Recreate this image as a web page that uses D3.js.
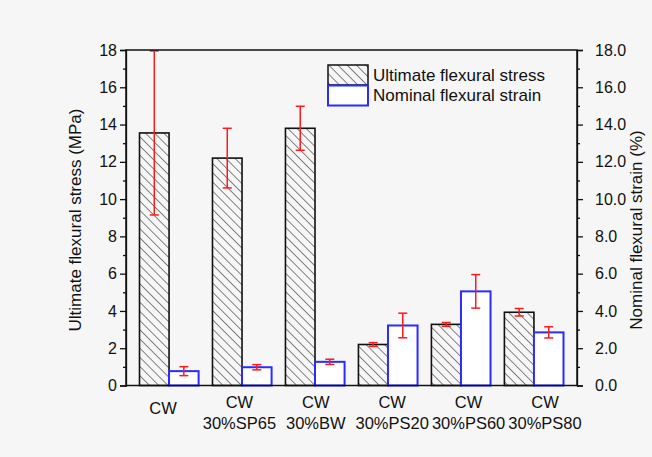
<!DOCTYPE html>
<html>
<head>
<meta charset="utf-8">
<script src="https://cdn.jsdelivr.net/npm/d3@7"></script>
<style>
  body { margin: 0; background: #f6f6f6; }
  svg { display: block; font-family: "Liberation Sans", Arial, sans-serif; }
</style>
</head>
<body>
<svg id="chart"></svg>
<script>
// groups (two-line tick labels)
const groups = ["CW", "CW|30%SP65", "CW|30%BW", "CW|30%PS20", "CW|30%PS60", "CW|30%PS80"];
// ultimate flexural stress (MPa) and its error
const stress = [13.55, 12.2, 13.8, 2.2, 3.28, 3.93];
const stressErr = [4.4, 1.6, 1.18, 0.1, 0.1, 0.2];
// nominal flexural strain (%) and its error
const strain = [0.77, 0.98, 1.27, 3.22, 5.05, 2.85];
const strainErr = [0.24, 0.14, 0.14, 0.66, 0.9, 0.3];
const leftTicks = [0, 2, 4, 6, 8, 10, 12, 14, 16, 18];
const rightTicks = [0, 2, 4, 6, 8, 10, 12, 14, 16, 18];

const W = 652, H = 457;
const margin = { top: 50, right: 75, bottom: 71.5, left: 126 };
const width = W - margin.left - margin.right;
const height = H - margin.top - margin.bottom;

const svg = d3.select("#chart").attr("width", W).attr("height", H);

svg.append("rect").attr("width", W).attr("height", H).attr("fill", "#f6f6f6");

// hatch pattern
const defs = svg.append("defs");
defs.append("pattern")
    .attr("id", "hatch")
    .attr("patternUnits", "userSpaceOnUse")
    .attr("width", 6.5).attr("height", 6.5)
    .attr("patternTransform", "rotate(-45)")
    .append("line")
    .attr("x1", 0).attr("y1", 0).attr("x2", 0).attr("y2", 6.5)
    .attr("stroke", "#222").attr("stroke-width", 1.1);

const g = svg.append("g").attr("transform", `translate(${margin.left},${margin.top})`);

const x = d3.scaleBand().domain(groups).range([0, width])
    .paddingInner(0.19).paddingOuter(0.185);
const sub = d3.scaleBand().domain(["stress", "strain"]).range([0, x.bandwidth()]);
const yL = d3.scaleLinear().domain([0, 18]).range([height, 0]);
const yR = d3.scaleLinear().domain([0, 18]).range([height, 0]);

// stress bars
g.selectAll(".sbar").data(stress).enter().append("rect")
    .attr("x", (d, i) => x(groups[i]) + sub("stress"))
    .attr("y", d => yL(d))
    .attr("width", sub.bandwidth())
    .attr("height", d => height - yL(d))
    .attr("fill", "url(#hatch)")
    .attr("stroke", "#111").attr("stroke-width", 1.6);

// strain bars
g.selectAll(".nbar").data(strain).enter().append("rect")
    .attr("x", (d, i) => x(groups[i]) + sub("strain"))
    .attr("y", d => yR(d))
    .attr("width", sub.bandwidth())
    .attr("height", d => height - yR(d))
    .attr("fill", "#fff")
    .attr("stroke", "#2b2bff").attr("stroke-width", 2);

// error bars
function errBars(vals, errs, key, y) {
    const cap = 4.5;
    vals.forEach((v, i) => {
        const cx = x(groups[i]) + sub(key) + sub.bandwidth() / 2;
        const eg = g.append("g").attr("stroke", "#ff1a1a").attr("stroke-width", 1.5);
        eg.append("line").attr("x1", cx).attr("x2", cx)
            .attr("y1", y(v + errs[i])).attr("y2", y(v - errs[i]));
        eg.append("line").attr("x1", cx - cap).attr("x2", cx + cap)
            .attr("y1", y(v + errs[i])).attr("y2", y(v + errs[i]));
        eg.append("line").attr("x1", cx - cap).attr("x2", cx + cap)
            .attr("y1", y(v - errs[i])).attr("y2", y(v - errs[i]));
    });
}
errBars(stress, stressErr, "stress", yL);
errBars(strain, strainErr, "strain", yR);

// left axis
const axL = g.append("g")
    .call(d3.axisLeft(yL).tickValues(leftTicks).tickSize(6).tickPadding(3).tickFormat(d3.format("d")));
axL.selectAll("text").style("font-size", "16px").attr("fill", "#111");
g.append("g")
    .call(d3.axisLeft(yL).tickValues(d3.range(1, 18, 2)).tickSize(3).tickFormat(""))
    .select(".domain").remove();

// right axis
const axR = g.append("g").attr("transform", `translate(${width},0)`)
    .call(d3.axisRight(yR).tickValues(rightTicks).tickSize(6).tickPadding(12).tickFormat(d3.format(".1f")));
axR.selectAll("text").style("font-size", "16px").attr("fill", "#111");
g.append("g").attr("transform", `translate(${width},0)`)
    .call(d3.axisRight(yR).tickValues(d3.range(1, 18, 2)).tickSize(3).tickFormat(""))
    .select(".domain").remove();

g.selectAll(".domain, .tick line").attr("stroke", "#111").attr("stroke-width", 1.3);

// frame
g.append("rect").attr("width", width).attr("height", height)
    .attr("fill", "none").attr("stroke", "#111").attr("stroke-width", 1.5);

// category labels (placed a bit wider than the bar groups, as in the original)
const lx = d3.scalePoint().domain(groups).range([37, width - 32]);
groups.forEach(name => {
    const parts = name.split("|");
    const t = g.append("text")
        .attr("x", lx(name))
        .attr("text-anchor", "middle")
        .style("font-size", "16.5px").attr("fill", "#111");
    if (parts.length === 1) {
        t.attr("y", height + 28.5).text(parts[0]);
    } else {
        t.attr("y", height + 22.5).text(parts[0]);
        g.append("text").attr("x", lx(name)).attr("y", height + 43.5)
            .attr("text-anchor", "middle")
            .style("font-size", "16.5px").attr("fill", "#111")
            .text(parts[1]);
    }
});

// axis titles
svg.append("text")
    .attr("transform", `translate(75,220) rotate(-90)`)
    .attr("text-anchor", "middle").attr("dominant-baseline", "central")
    .style("font-size", "17px").attr("fill", "#111")
    .text("Ultimate flexural stress (MPa)");
svg.append("text")
    .attr("transform", `translate(636,230) rotate(-90)`)
    .attr("text-anchor", "middle").attr("dominant-baseline", "central")
    .style("font-size", "17px").attr("fill", "#111")
    .text("Nominal flexural strain (%)");

// legend
const legend = svg.append("g").attr("transform", "translate(328,65)");
legend.append("rect").attr("width", 40).attr("height", 20)
    .attr("fill", "url(#hatch)").attr("stroke", "#111").attr("stroke-width", 1.5);
legend.append("rect").attr("y", 20.5).attr("width", 40).attr("height", 20)
    .attr("fill", "#fff").attr("stroke", "#2b2bff").attr("stroke-width", 2);
legend.append("text").attr("x", 45).attr("y", 10).attr("dominant-baseline", "central")
    .style("font-size", "17px").attr("fill", "#111").text("Ultimate flexural stress");
legend.append("text").attr("x", 45).attr("y", 30.5).attr("dominant-baseline", "central")
    .style("font-size", "17px").attr("fill", "#111").text("Nominal flexural strain");
</script>
</body>
</html>
